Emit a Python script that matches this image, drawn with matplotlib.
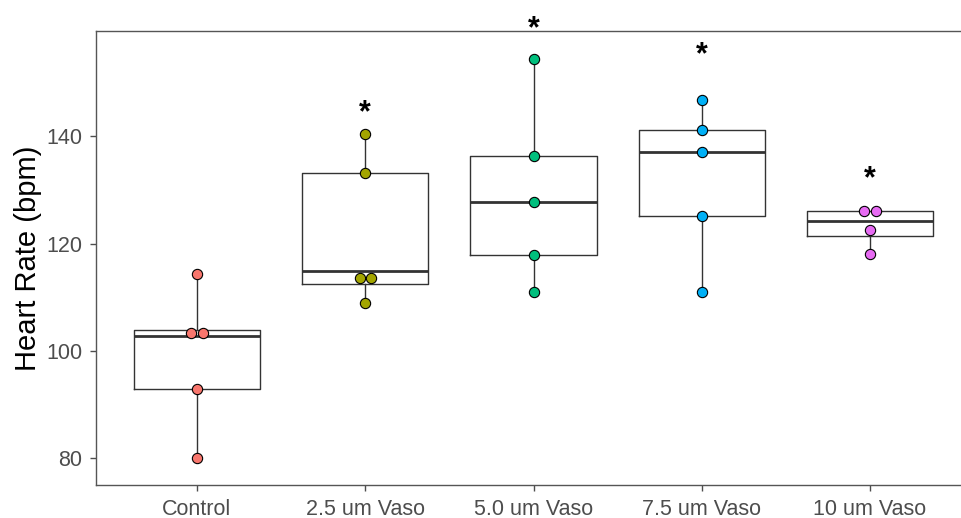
import matplotlib
matplotlib.use("Agg")
import matplotlib.pyplot as plt
import numpy as np

# ---- data ----
groups = ["Control", "2.5 um Vaso", "5.0 um Vaso", "7.5 um Vaso", "10 um Vaso"]
hr_control = [80.0, 92.8, 102.7, 103.8, 114.3]
hr_vaso_25 = [109.0, 112.5, 114.8, 133.2, 140.4]
hr_vaso_50 = [110.9, 117.9, 127.7, 136.3, 154.4]
hr_vaso_75 = [111.0, 125.1, 137.0, 141.1, 146.7]
hr_vaso_10 = [118.0, 122.5, 126.0, 126.0]
star_y = [None, 144.3, 160.0, 155.1, 132.0]

colors = ["#F8766D", "#A3A500", "#00BF7D", "#00B0F6", "#E76BF3"]
all_hr = [hr_control, hr_vaso_25, hr_vaso_50, hr_vaso_75, hr_vaso_10]

plt.rcParams['font.family'] = ['Liberation Sans', 'DejaVu Sans']

fig = plt.figure(figsize=(9.61, 5.18), dpi=100)
ax = fig.add_axes([96/961, 1-485/518, 875/961, (485-31)/518])

pos = np.arange(1, len(groups)+1)
ax.boxplot(all_hr, positions=pos, widths=0.75, showcaps=False, showfliers=False,
           boxprops=dict(color="#333333", linewidth=1.0),
           whiskerprops=dict(color="#333333", linewidth=1.0),
           medianprops=dict(color="#333333", linewidth=2.0))

# dotplot-style binning (values close together are stacked side by side)
lo = min(min(v) for v in all_hr)
hi = max(max(v) for v in all_hr)
binwidth = (hi - lo) / 30
dot_step = 0.067
for p, vals, c in zip(pos, all_hr, colors):
    vals = sorted(vals)
    bins = []
    for v in vals:
        if bins and v < bins[-1][0] + binwidth:
            bins[-1].append(v)
        else:
            bins.append([v])
    for b in bins:
        yc = (b[0] + b[-1]) / 2
        n = len(b)
        xs = p + (np.arange(n) - (n-1)/2) * dot_step
        ax.plot(xs, [yc]*n, 'o', ms=7.4, mfc=c, mec='black', mew=0.8, zorder=5, ls='none')

for p, sy in zip(pos, star_y):
    if sy is not None:
        ax.text(p, sy, "*", ha='center', va='center', fontsize=22, fontweight='bold',
                color='black', clip_on=False)

ax.set_xlim(0.4, 5.6)
ax.set_ylim(75.0, 159.6)
ax.set_yticks([80, 100, 120, 140])
ax.set_xticks(pos)
ax.set_xticklabels(groups)
ax.tick_params(labelsize=15.5, colors="#4D4D4D", length=4, width=1, pad=6)
ax.spines['right'].set_visible(False)
for s in ax.spines.values():
    s.set_color("#555555")
    s.set_linewidth(1.0)
ax.set_ylabel("Heart Rate (bpm)", fontsize=21, color="black", labelpad=3)

plt.savefig("out.png", dpi=100)
